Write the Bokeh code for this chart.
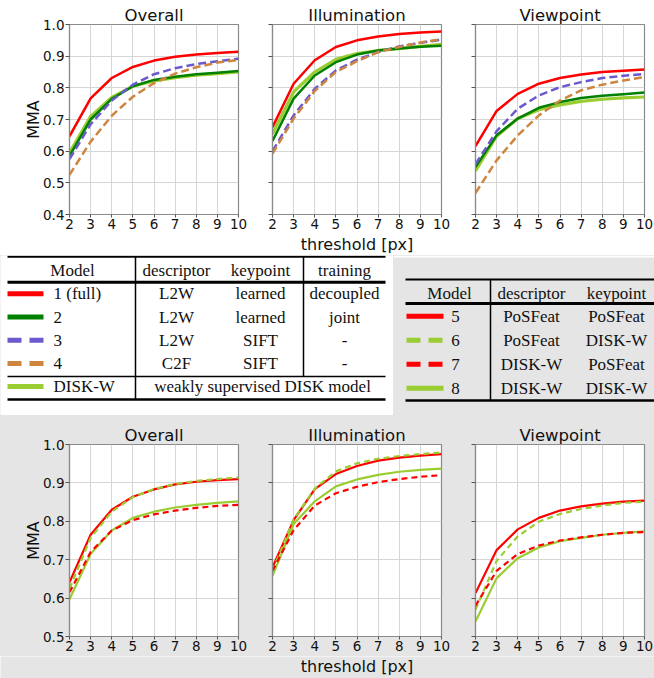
from bokeh.plotting import figure
from bokeh.models import Range1d, FixedTicker, PrintfTickFormatter
from bokeh.layouts import column, row
from bokeh.embed import file_html
from bokeh.resources import INLINE
from bokeh.core.properties import value

# ---------------- data ----------------
THRESHOLDS = [2, 3, 4, 5, 6, 7, 8, 9, 10]
Y_TICKS_TOP = [0.4, 0.5, 0.6, 0.7, 0.8, 0.9, 1.0]
Y_TICKS_BOTTOM = [0.5, 0.6, 0.7, 0.8, 0.9, 1.0]
PANEL_TITLES = ["Overall", "Illumination", "Viewpoint"]
X_LABEL = "threshold [px]"
Y_LABEL = "MMA"

# top panels: models 1-4 and DISK-W
OV_1 = [0.647, 0.767, 0.831, 0.866, 0.886, 0.898, 0.905, 0.910, 0.914]
OV_2 = [0.585, 0.700, 0.765, 0.805, 0.825, 0.835, 0.843, 0.848, 0.853]
OV_3 = [0.575, 0.685, 0.760, 0.810, 0.843, 0.862, 0.875, 0.884, 0.892]
OV_4 = [0.525, 0.630, 0.712, 0.772, 0.815, 0.845, 0.865, 0.880, 0.888]
OV_W = [0.595, 0.710, 0.770, 0.805, 0.822, 0.832, 0.840, 0.845, 0.850]

IL_1 = [0.676, 0.813, 0.887, 0.929, 0.950, 0.962, 0.970, 0.975, 0.978]
IL_2 = [0.632, 0.766, 0.839, 0.881, 0.905, 0.918, 0.924, 0.930, 0.933]
IL_3 = [0.600, 0.713, 0.797, 0.855, 0.889, 0.913, 0.931, 0.942, 0.952]
IL_4 = [0.592, 0.703, 0.790, 0.850, 0.884, 0.913, 0.929, 0.943, 0.954]
IL_W = [0.655, 0.787, 0.850, 0.890, 0.908, 0.918, 0.924, 0.931, 0.937]

VP_1 = [0.616, 0.727, 0.781, 0.813, 0.831, 0.842, 0.850, 0.854, 0.858]
VP_2 = [0.550, 0.650, 0.703, 0.737, 0.755, 0.768, 0.775, 0.780, 0.785]
VP_3 = [0.559, 0.663, 0.734, 0.776, 0.802, 0.818, 0.831, 0.838, 0.844]
VP_4 = [0.468, 0.571, 0.650, 0.713, 0.760, 0.792, 0.810, 0.823, 0.834]
VP_W = [0.538, 0.647, 0.703, 0.731, 0.746, 0.757, 0.764, 0.768, 0.771]

# bottom panels: models 5-8
OV_5 = [0.641, 0.765, 0.830, 0.864, 0.883, 0.896, 0.903, 0.907, 0.910]
OV_6 = [0.625, 0.757, 0.825, 0.863, 0.884, 0.897, 0.905, 0.910, 0.914]
OV_7 = [0.615, 0.720, 0.776, 0.803, 0.818, 0.828, 0.835, 0.840, 0.843]
OV_8 = [0.597, 0.715, 0.776, 0.809, 0.825, 0.836, 0.843, 0.848, 0.852]

IL_5 = [0.680, 0.803, 0.884, 0.923, 0.944, 0.958, 0.966, 0.971, 0.975]
IL_6 = [0.671, 0.805, 0.885, 0.930, 0.951, 0.963, 0.970, 0.975, 0.979]
IL_7 = [0.671, 0.777, 0.841, 0.873, 0.890, 0.902, 0.910, 0.916, 0.920]
IL_8 = [0.658, 0.793, 0.852, 0.891, 0.909, 0.921, 0.929, 0.934, 0.937]

VP_5 = [0.613, 0.725, 0.779, 0.809, 0.828, 0.839, 0.846, 0.851, 0.854]
VP_6 = [0.570, 0.697, 0.761, 0.799, 0.819, 0.832, 0.841, 0.848, 0.851]
VP_7 = [0.580, 0.671, 0.715, 0.737, 0.750, 0.758, 0.765, 0.770, 0.772]
VP_8 = [0.539, 0.652, 0.704, 0.732, 0.748, 0.757, 0.765, 0.770, 0.774]

# table 1
T1_HEADER = ["Model", "descriptor", "keypoint", "training"]
T1_MODELS = ["1 (full)", "2", "3", "4"]
T1_DESC = ["L2W", "L2W", "L2W", "C2F"]
T1_KP = ["learned", "learned", "SIFT", "SIFT"]
T1_TRAIN = ["decoupled", "joint", "-", "-"]
T1_DISK_NAME = "DISK-W"
T1_DISK_NOTE = "weakly supervised DISK model"

# table 2
T2_HEADER = ["Model", "descriptor", "keypoint"]
T2_MODELS = ["5", "6", "7", "8"]
T2_DESC = ["PoSFeat", "PoSFeat", "DISK-W", "DISK-W"]
T2_KP = ["PoSFeat", "DISK-W", "PoSFeat", "DISK-W"]

# ---------------- styles / layout ----------------
RED = "#ff0000"
GREEN = "#008000"
BLUE = "#6a5acd"
ORANGE = "#cd853f"
LGREEN = "#9acd32"
GRAY_BG = "#e5e5e5"
SANS = "DejaVu Sans"
SERIF = "Liberation Serif"
INK = "#111111"

TOP_STYLE = [(LGREEN, "solid", 3.2), (GREEN, "solid", 2.5), (BLUE, "8 4", 2.5),
             (ORANGE, "8 4", 2.5), (RED, "solid", 2.5)]
BOT_STYLE = [(RED, "solid", 2.2), (LGREEN, "6 4", 2.2), (LGREEN, "solid", 2.2), (RED, "6 4", 2.2)]

TOP_SERIES = [[OV_W, OV_2, OV_3, OV_4, OV_1],
              [IL_W, IL_2, IL_3, IL_4, IL_1],
              [VP_W, VP_2, VP_3, VP_4, VP_1]]
BOT_SERIES = [[OV_5, OV_6, OV_8, OV_7],
              [IL_5, IL_6, IL_8, IL_7],
              [VP_5, VP_6, VP_8, VP_7]]

TOTAL_W = 654
WIDTHS = [255, 203, 196]
BORDER_L = [69, 17, 17]
BORDER_R = [17, 17, 10]
FRAME_CX = []
_acc = 0
for _w, _bl, _br in zip(WIDTHS, BORDER_L, BORDER_R):
    FRAME_CX.append(_acc + _bl + (_w - _bl - _br) / 2)
    _acc += _w


def panel(i, series, styles, ylo, yhi, yticks, h, bt, bb, fill):
    p = figure(width=WIDTHS[i], height=h, x_range=Range1d(2, 10), y_range=Range1d(ylo, yhi),
               output_backend="svg", toolbar_location=None, title=PANEL_TITLES[i],
               min_border_left=BORDER_L[i], min_border_right=BORDER_R[i],
               min_border_top=bt, min_border_bottom=bb)
    p.title.align = "center"
    p.title.text_font = SANS
    p.title.text_font_size = "16.5px"
    p.title.text_font_style = "normal"
    p.title.text_color = INK
    p.title.standoff = 0
    p.title.offset = 0
    p.background_fill_color = "white"
    p.border_fill_color = fill
    p.outline_line_color = "#8a8a8a"
    p.outline_line_width = 1.2
    p.grid.grid_line_color = "#d6d6d6"
    p.grid.grid_line_width = 1
    for ys, (color, dash, lw) in zip(series, styles):
        p.line(THRESHOLDS, ys, line_color=color, line_width=lw, line_dash=dash)
    p.xaxis.ticker = FixedTicker(ticks=THRESHOLDS)
    p.yaxis.ticker = FixedTicker(ticks=yticks)
    p.yaxis.formatter = PrintfTickFormatter(format="%.1f")
    p.axis.axis_line_color = "#8a8a8a"
    p.axis.axis_line_width = 1.2
    p.axis.major_tick_line_color = "#555555"
    p.axis.major_tick_in = 0
    p.axis.minor_tick_line_color = None
    p.axis.major_label_text_font = SANS
    p.axis.major_label_text_font_size = "13.5px"
    p.axis.major_label_text_color = INK
    p.xaxis.major_tick_out = 3
    p.xaxis.major_label_standoff = 1
    p.yaxis.major_tick_out = 4
    p.yaxis.major_label_standoff = 1
    if i == 0:
        p.yaxis.axis_label = Y_LABEL
        p.yaxis.axis_label_text_font = SANS
        p.yaxis.axis_label_text_font_size = "16px"
        p.yaxis.axis_label_text_font_style = "normal"
        p.yaxis.axis_label_text_color = INK
        p.yaxis.axis_label_standoff = -3
    else:
        p.yaxis.major_label_overrides = {t: "" for t in yticks}
    return p


def strip_fig(w, h, bg):
    p = figure(width=w, height=h, x_range=Range1d(0, w), y_range=Range1d(h, 0),
               output_backend="svg", toolbar_location=None, min_border=0,
               x_axis_location=None, y_axis_location=None)
    p.grid.visible = False
    p.outline_line_color = None
    p.background_fill_color = bg
    p.border_fill_color = bg
    return p


def sans_text(p, xs, ys, texts, size):
    p.text(x=xs, y=ys, text=texts, text_align="center", text_baseline="middle",
           text_font=value(SANS), text_font_size=value(size), text_color=INK)


def serif_text(p, xs, ys, texts, align="center"):
    p.text(x=xs, y=ys, text=texts, text_align=align, text_baseline="middle",
           text_font=value(SERIF), text_font_size=value("17px"), text_color=INK)


# ---- top plots (0 -> 234) ----
top = [panel(i, TOP_SERIES[i], TOP_STYLE, 0.4, 1.0, Y_TICKS_TOP, 234, 24, 20, "white")
       for i in range(3)]

top_xlabel = strip_fig(TOTAL_W, 21, "white")
sans_text(top_xlabel, [FRAME_CX[1]], [9.5], [X_LABEL], "16px")

# ---- table 1 ----
T_H = 160
t1 = strip_fig(393, T_H, "white")
row_y1 = [38.3 + 23.2 * k for k in range(len(T1_MODELS))]
disk_y = 38.3 + 23.2 * len(T1_MODELS)
col_x1 = [72, 176, 260, 344]
serif_text(t1, col_x1, [15] * 4, T1_HEADER)
serif_text(t1, [53] * len(T1_MODELS), row_y1, T1_MODELS, align="left")
serif_text(t1, [col_x1[1]] * 4, row_y1, T1_DESC)
serif_text(t1, [col_x1[2]] * 4, row_y1, T1_KP)
serif_text(t1, [col_x1[3]] * 4, row_y1, T1_TRAIN)
serif_text(t1, [53], [disk_y], [T1_DISK_NAME], align="left")
serif_text(t1, [262], [disk_y], [T1_DISK_NOTE])
t1.segment(x0=[7] * 4, y0=[1.2, 26.7, 121, 144], x1=[385] * 4, y1=[1.2, 26.7, 121, 144],
           line_color="black", line_width=[2, 3, 1.3, 2.5])
t1.segment(x0=[135, 303], y0=[1, 1], x1=[135, 303], y1=[144, 121], line_color="black", line_width=1.5)
leg1_colors = [RED, GREEN, BLUE, ORANGE]
leg1_dash = ["solid", "solid", "14 8", "14 8"]
for yy, c, d in zip(row_y1, leg1_colors, leg1_dash):
    t1.segment(x0=[7], y0=[yy], x1=[43], y1=[yy], line_color=c, line_width=5, line_dash=d)
t1.segment(x0=[7], y0=[disk_y], x1=[43], y1=[disk_y], line_color=LGREEN, line_width=5)

# ---- table 2 ----
t2 = strip_fig(261, T_H, GRAY_BG)
t2.quad(left=[0], right=[261], top=[0], bottom=[2], fill_color="white", line_color=None)
row_y2 = [60.7 + 24 * k for k in range(len(T2_MODELS))]
col_x2 = [56, 138, 223]
serif_text(t2, col_x2, [38] * 3, T2_HEADER)
serif_text(t2, [62] * 4, row_y2, T2_MODELS)
serif_text(t2, [col_x2[1]] * 4, row_y2, T2_DESC)
serif_text(t2, [col_x2[2]] * 4, row_y2, T2_KP)
t2.segment(x0=[12] * 3, y0=[24, 48, 145], x1=[261] * 3, y1=[24, 48, 145],
           line_color="black", line_width=[2, 3, 2.5])
t2.segment(x0=[97], y0=[24], x1=[97], y1=[145], line_color="black", line_width=1.5)
leg2_colors = [RED, LGREEN, RED, LGREEN]
leg2_dash = ["solid", "14 8", "14 8", "solid"]
for yy, c, d in zip(row_y2, leg2_colors, leg2_dash):
    t2.segment(x0=[13], y0=[yy], x1=[50], y1=[yy], line_color=c, line_width=5, line_dash=d)

# ---- bottom plots (415 -> 656) ----
bot = [panel(i, BOT_SERIES[i], BOT_STYLE, 0.5, 1.0, Y_TICKS_BOTTOM, 241, 29, 20, GRAY_BG)
       for i in range(3)]

bot_xlabel = strip_fig(TOTAL_W, 22, GRAY_BG)
sans_text(bot_xlabel, [FRAME_CX[1]], [9.5], [X_LABEL], "16px")

layout = column(row(*top),
                top_xlabel,
                row(t1, t2, styles={"background-color": GRAY_BG}),
                row(*bot, styles={"background-color": GRAY_BG}),
                bot_xlabel)
open("out.html", "w").write(file_html(layout, INLINE))
